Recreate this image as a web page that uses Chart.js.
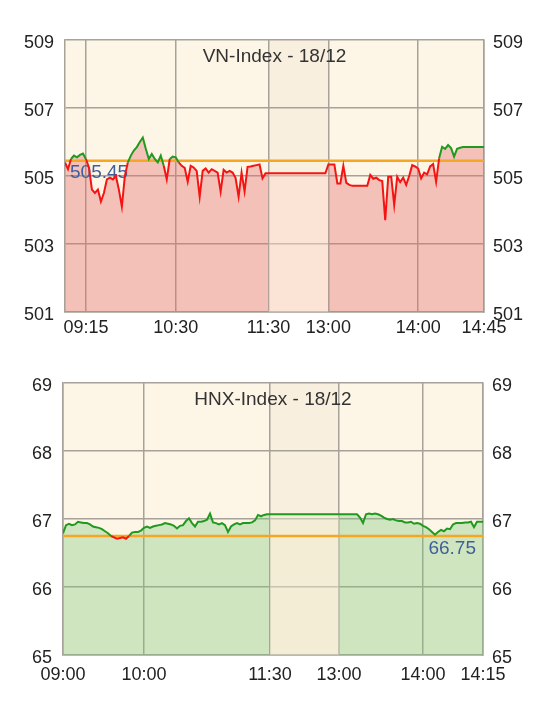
<!DOCTYPE html>
<html>
<head>
<meta charset="utf-8">
<script src="https://cdn.jsdelivr.net/npm/chart.js@4"></script>
<style>
  body { margin: 0; background: #fff; }
  canvas { display: block; }
</style>
</head>
<body>
<canvas id="vnChart" width="559" height="350"></canvas>
<canvas id="hnxChart" width="559" height="351"></canvas>
<script>
// VN-Index, one value per sample
const vnValues = [
  505.40, 505.20, 505.50, 505.60, 505.55, 505.62, 505.66, 505.50, 505.25, 504.60,
  504.50, 504.60, 504.25, 504.50, 504.90, 504.95, 504.90, 505.00, 504.60, 504.10,
  505.00, 505.40, 505.60, 505.75, 505.85, 506.00, 506.13, 505.80, 505.50, 505.65,
  505.50, 505.40, 505.60, 505.30, 504.90, 505.50, 505.57, 505.55, 505.40, 505.30,
  505.24, 504.83, 505.30, 505.25, 505.15, 504.39, 505.15, 505.22, 505.10, 505.20,
  505.15, 505.10, 504.54, 505.18, 505.10, 505.15, 505.10, 504.94, 504.39, 505.10,
  504.55, 505.27, 505.28, 505.30, 505.32, 505.34, 504.93, 505.08, 505.08, 505.08,
  505.08, 505.08, 505.08, 505.08, 505.08, 505.08, 505.08, 505.08, 505.08, 505.08,
  505.08, 505.08, 505.08, 505.08, 505.08, 505.08, 505.08, 505.08, 505.34, 505.34,
  505.34, 504.78, 504.78, 505.30, 504.80, 504.74, 504.71, 504.71, 504.71, 504.71,
  504.71, 504.71, 505.03, 504.92, 504.95, 504.88, 504.85, 503.70, 504.98, 504.98,
  504.15, 504.98, 504.82, 504.95, 504.74, 505.00, 505.32, 505.28, 505.22, 504.93,
  505.10, 505.05, 505.28, 505.35, 504.83, 505.52, 505.86, 505.80, 505.91, 505.82,
  505.57, 505.80, 505.83, 505.85, 505.85, 505.85, 505.85, 505.85, 505.85, 505.85,
  505.85
];
const vnRef = 505.45;
const vnTickPos = [7, 37, 68, 88, 118, 140];
const vnTickLabels = ['09:15', '10:30', '11:30', '13:00', '14:00', '14:45'];

// HNX-Index
const hnxValues = [
  66.79, 66.91, 66.93, 66.91, 66.92, 66.96, 66.95, 66.94, 66.94, 66.92,
  66.89, 66.88, 66.87, 66.85, 66.82, 66.79, 66.75, 66.73, 66.71, 66.72,
  66.73, 66.71, 66.75, 66.80, 66.81, 66.81, 66.83, 66.87, 66.89, 66.87,
  66.89, 66.90, 66.91, 66.92, 66.94, 66.93, 66.92, 66.90, 66.86, 66.90,
  66.91, 66.97, 67.01, 66.94, 66.89, 66.96, 66.96, 66.97, 66.99, 67.08,
  66.95, 66.94, 66.92, 66.94, 66.91, 66.81, 66.89, 66.92, 66.94, 66.92,
  66.94, 66.94, 66.94, 66.95, 66.98, 67.06, 67.04, 67.06, 67.07, 67.07,
  67.07, 67.07, 67.07, 67.07, 67.07, 67.07, 67.07, 67.07, 67.07, 67.07,
  67.07, 67.07, 67.07, 67.07, 67.07, 67.07, 67.07, 67.07, 67.07, 67.07,
  67.07, 67.07, 67.07, 67.07, 67.07, 67.07, 67.07, 67.07, 67.07, 67.02,
  66.94, 67.07, 67.08, 67.07, 67.08, 67.07, 67.05, 67.02, 67.00, 66.99,
  67.00, 66.98, 66.97, 66.97, 66.95, 66.95, 66.96, 66.93, 66.94, 66.93,
  66.90, 66.88, 66.85, 66.81, 66.77, 66.81, 66.84, 66.82, 66.86, 66.85,
  66.92, 66.94, 66.94, 66.94, 66.95, 66.95, 66.96, 66.88, 66.96, 66.96,
  66.96
];
const hnxRef = 66.75;
const hnxTickPos = [0, 27, 69, 92, 120, 140];
const hnxTickLabels = ['09:00', '10:00', '11:30', '13:00', '14:00', '14:15'];

const FONT = '"Liberation Sans", Arial, sans-serif';
const RED = '#f41414';
const GREEN = '#1f9a1f';
const ORANGE = '#f5a623';
const GRID = '#a6a29a';

function buildChart(el, o) {
  const lastX = o.values.length - 1;
  const lunchFrom = o.tickPos[2], lunchTo = o.tickPos[3];
  const points = o.values.map((v, i) => ({ x: i, y: v }));
  const inLunch = x => x >= lunchFrom && x < lunchTo;

  const decor = {
    id: 'decor',
    beforeDraw(chart) {
      const { ctx, chartArea: a } = chart;
      const x = chart.scales.x;
      ctx.save();
      ctx.fillStyle = '#fdf6e6';
      ctx.fillRect(a.left, a.top, a.right - a.left, a.bottom - a.top);
      const l1 = x.getPixelForValue(lunchFrom), l2 = x.getPixelForValue(lunchTo);
      ctx.fillStyle = '#f8efdf';
      ctx.fillRect(l1, a.top, l2 - l1, a.bottom - a.top);
      ctx.restore();
    },
    beforeDatasetsDraw(chart) {
      const { ctx, chartArea: a } = chart;
      const yPx = chart.scales.y.getPixelForValue(o.ref);
      ctx.save();
      ctx.font = '19px ' + FONT;
      ctx.fillStyle = '#333';
      ctx.textAlign = 'center';
      ctx.textBaseline = 'alphabetic';
      ctx.fillText(o.title, (a.left + a.right) / 2, a.top + 22);
      ctx.fillStyle = '#3f5f9c';
      ctx.textBaseline = 'top';
      if (o.refSide === 'left') {
        ctx.textAlign = 'left';
        ctx.fillText(o.ref.toFixed(2), a.left + 5, yPx + 3);
      } else {
        ctx.textAlign = 'right';
        ctx.fillText(o.ref.toFixed(2), a.right - 7, yPx + 3);
      }
      ctx.restore();
    }
  };

  const tickFont = { family: FONT, size: 18 };

  return new Chart(el, {
    type: 'line',
    data: {
      datasets: [
        // area under the index
        {
          data: points,
          borderWidth: 0,
          borderColor: 'transparent',
          pointRadius: 0,
          tension: 0,
          fill: 'start',
          backgroundColor: o.fill,
          order: 2,
          segment: {
            backgroundColor: c => inLunch(c.p0.parsed.x) ? o.lunchFill : o.fill
          }
        },
        // index line, green above reference, red below
        {
          data: points,
          borderColor: RED,
          borderWidth: 2,
          pointRadius: 0,
          tension: 0,
          fill: false,
          order: 0,
          segment: {
            borderColor: c => (c.p0.parsed.y + c.p1.parsed.y) / 2 >= o.ref ? GREEN : RED
          }
        },
        // reference (previous close)
        {
          data: [{ x: 0, y: o.ref }, { x: lastX, y: o.ref }],
          borderColor: ORANGE,
          borderWidth: 2.5,
          pointRadius: 0,
          fill: false,
          order: 1
        }
      ]
    },
    options: {
      responsive: false,
      animation: false,
      events: [],
      layout: { padding: { top: o.padTop, left: 0, right: 0, bottom: 0 } },
      plugins: {
        legend: { display: false },
        tooltip: { enabled: false },
        filler: { drawTime: 'beforeDatasetsDraw' }
      },
      scales: {
        x: {
          type: 'linear',
          min: 0,
          max: lastX,
          afterBuildTicks: s => { s.ticks = o.tickPos.map(v => ({ value: v })); },
          afterFit: s => { s.height = o.xAxisH; },
          ticks: {
            autoSkip: false,
            maxRotation: 0,
            minRotation: 0,
            padding: o.xPad,
            font: tickFont,
            color: '#222',
            callback: (v, i) => o.tickLabels[i]
          },
          grid: { color: GRID, lineWidth: 1.5, drawTicks: false },
          border: { color: GRID, width: 1.5 }
        },
        y: {
          position: 'left',
          min: o.min,
          max: o.max,
          afterFit: s => { s.width = o.leftW; },
          ticks: { stepSize: o.step, padding: 11, labelOffset: 3, font: tickFont, color: '#222' },
          grid: { color: GRID, lineWidth: 1.5, drawTicks: false },
          border: { color: GRID, width: 1.5 }
        },
        y2: {
          position: 'right',
          min: o.min,
          max: o.max,
          afterFit: s => { s.width = o.rightW; },
          ticks: { stepSize: o.step, padding: 9, labelOffset: 3, font: tickFont, color: '#222' },
          grid: { drawOnChartArea: false, drawTicks: false },
          border: { color: GRID, width: 1.5 }
        }
      }
    },
    plugins: [decor]
  });
}

buildChart(document.getElementById('vnChart'), {
  title: 'VN-Index - 18/12',
  values: vnValues,
  ref: vnRef,
  refSide: 'left',
  tickPos: vnTickPos,
  tickLabels: vnTickLabels,
  min: 501, max: 509, step: 2,
  fill: 'rgba(227, 109, 107, 0.38)',
  lunchFill: 'rgba(254, 214, 204, 0.45)',
  padTop: 40, xAxisH: 38, xPad: 5, leftW: 65, rightW: 75
});

buildChart(document.getElementById('hnxChart'), {
  title: 'HNX-Index - 18/12',
  values: hnxValues,
  ref: hnxRef,
  refSide: 'right',
  tickPos: hnxTickPos,
  tickLabels: hnxTickLabels,
  min: 65, max: 69, step: 1,
  fill: 'rgba(124, 200, 121, 0.36)',
  lunchFill: 'rgba(238, 236, 205, 0.45)',
  padTop: 33, xAxisH: 46, xPad: 9, leftW: 63, rightW: 76
});
</script>
</body>
</html>
